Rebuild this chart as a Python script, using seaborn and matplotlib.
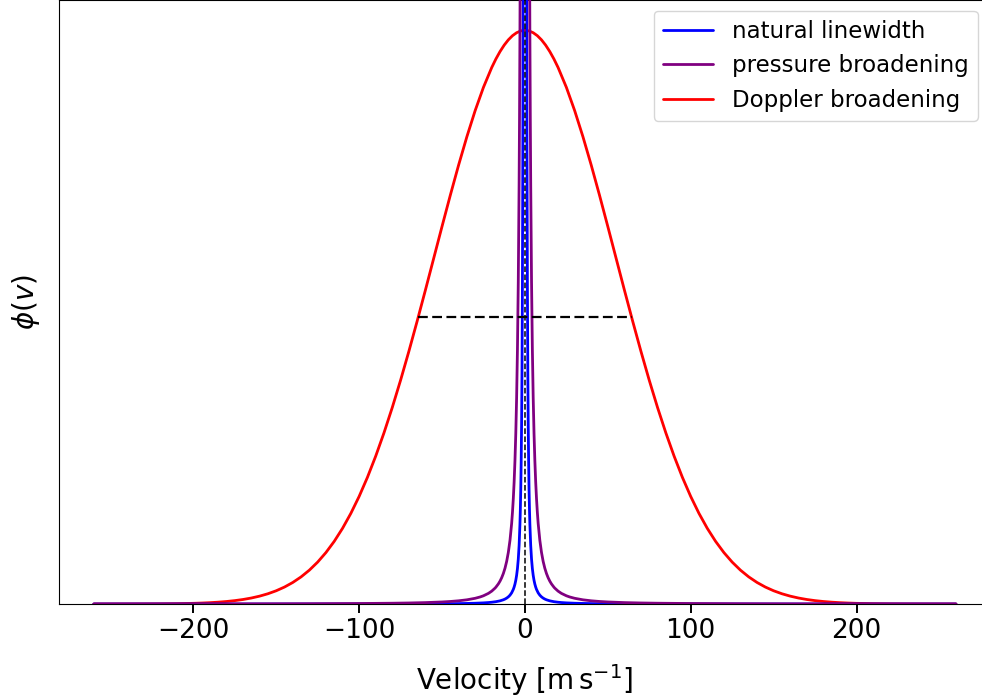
import matplotlib
matplotlib.use("Agg")
import matplotlib.pyplot as plt
import pandas as pd
import seaborn as sns

# ---------------- data (one side of each symmetric profile) ----------
# Doppler broadening (Gaussian), relative to its own peak
doppler_v_half = [0, 2.5, 5, 7.5, 10, 12.5, 15, 17.5, 20, 25, 30, 35, 40, 45, 50, 55, 60, 65,
                  70, 75, 80, 85, 90, 95, 100, 105, 110, 115, 120, 125, 130, 135, 140, 145,
                  150, 155, 160, 165, 170, 175, 180, 185, 190, 195, 200, 210, 220, 230, 240,
                  250, 260]
doppler_phi_half = [1.0, 0.99895, 0.99582, 0.99063, 0.98340, 0.97418, 0.96303, 0.95003,
                    0.93524, 0.90066, 0.86013, 0.81456, 0.76501, 0.71250, 0.65802, 0.60266,
                    0.54734, 0.49298, 0.44031, 0.38997, 0.34251, 0.29834, 0.25767, 0.22070,
                    0.18748, 0.15792, 0.13191, 0.10927, 0.08976, 0.07311, 0.05906, 0.04731,
                    0.03759, 0.02961, 0.02313, 0.01792, 0.01377, 0.01049, 0.00792, 0.005935,
                    0.00441, 0.003248, 0.00237, 0.00172, 0.00123, 0.00062, 0.00030, 0.00014,
                    0.000065, 0.000029, 0.000012]

# pressure broadening (Lorentzian), same scale
pressure_v_half = [0, 0.5, 1, 1.5, 2, 2.5, 2.75, 3, 3.25, 3.5, 4, 4.5, 5, 5.5, 6, 6.5, 7, 7.5,
                   8, 9, 10, 11, 12, 13, 14, 15, 16, 17.5, 18, 20, 22, 25, 27, 30, 35, 40, 45,
                   50, 60, 70, 80, 100, 130, 160, 200, 260]
pressure_phi_half = [250.0, 31.5, 8.69, 3.94, 2.23, 1.432, 1.1844, 0.996, 0.8491, 0.7325,
                     0.5612, 0.4437, 0.3595, 0.2972, 0.2498, 0.2128, 0.1835, 0.1599, 0.1405,
                     0.11106, 0.0900, 0.07436, 0.0625, 0.05324, 0.04591, 0.0400, 0.03515,
                     0.0294, 0.02777, 0.0225, 0.01859, 0.0144, 0.01234, 0.0100, 0.007347,
                     0.00563, 0.004444, 0.0036, 0.0025, 0.001837, 0.00141, 0.0009, 0.00053,
                     0.00035, 0.000225, 0.000133]

# natural linewidth (Lorentzian), same scale
natural_v_half = [0, 0.25, 0.5, 0.75, 1, 1.25, 1.5, 1.75, 2, 2.25, 2.5, 2.75, 3, 3.5, 4, 4.5,
                  5, 5.5, 6, 6.5, 7, 8, 9, 10, 11, 12, 13, 15, 17.5, 20, 22, 25, 30, 35, 40,
                  45, 50, 60, 70, 80, 100, 130, 160, 200, 260]
natural_phi_half = [1712.0, 19.8, 4.985, 2.219, 1.249, 0.7996, 0.5554, 0.4081, 0.3124,
                    0.2469, 0.2, 0.1653, 0.1389, 0.1020, 0.0781, 0.06173, 0.05, 0.04132,
                    0.0347, 0.02959, 0.0255, 0.0195, 0.01543, 0.0125, 0.01033, 0.00868,
                    0.007396, 0.00556, 0.004082, 0.003125, 0.002583, 0.002, 0.00139, 0.00102,
                    0.00078, 0.000617, 0.0005, 0.00035, 0.000255, 0.0002, 0.000125, 0.000074,
                    0.000049, 0.000031, 0.000018]

doppler_fwhm = 128.6
half_max = 0.5
line_center = 0

series_labels = ["natural linewidth", "pressure broadening", "Doppler broadening"]
series_colors = ["blue", "purple", "red"]
xtick_values = [-200, -100, 0, 100, 200]
x_limits = (-281, 281)
y_limits = (0, 1.052)


def mirror(v, p):
    v_full = [-x for x in reversed(v[1:])] + list(v)
    p_full = list(reversed(p[1:])) + list(p)
    return pd.DataFrame({"v": v_full, "phi": p_full})


frames = [mirror(natural_v_half, natural_phi_half),
          mirror(pressure_v_half, pressure_phi_half),
          mirror(doppler_v_half, doppler_phi_half)]

# ---------------- style ----------------
sns.set_style("white", rc={
    "axes.edgecolor": "black",
    "axes.linewidth": 1.4,
    "xtick.bottom": True,
    "xtick.color": "black",
    "axes.labelcolor": "black",
    "text.color": "black",
})
plt.rcParams["font.family"] = ["DejaVu Sans"]
plt.rcParams["mathtext.fontset"] = "dejavusans"

fig = plt.figure(figsize=(9.82, 7.0), dpi=100)
ax = fig.add_axes([0.06008, 0.1371, 0.9489, 0.8622])

zorders = [3, 3, 2]
for df, lab, col, z in zip(frames, series_labels, series_colors, zorders):
    sns.lineplot(data=df, x="v", y="phi", ax=ax, color=col, lw=2.0, label=lab,
                 sort=False, estimator=None, zorder=z)

# FWHM marker and line centre
ax.plot([-doppler_fwhm / 2, doppler_fwhm / 2], [half_max, half_max], color="black",
        lw=1.6, linestyle=(0, (4.4, 2.0)), zorder=4)
ax.axvline(line_center, color="black", lw=1.1, linestyle="--", zorder=5)

ax.set_xlim(*x_limits)
ax.set_ylim(*y_limits)
ax.set_xticks(xtick_values)
ax.set_yticks([])
ax.tick_params(axis="x", labelsize=19, length=6.5, width=1.4, direction="out")
ax.set_xlabel(r"Velocity [$\mathrm{m\,s^{-1}}$]", fontsize=20, labelpad=13)
ax.set_ylabel(r"$\phi(v)$", fontsize=20, labelpad=12)

leg = ax.legend(loc="upper right", bbox_to_anchor=(0.9968, 1.0), fontsize=16.5,
                frameon=True, labelspacing=0.5, handlelength=2.2, borderaxespad=0.45)
leg.get_frame().set_edgecolor("0.8")
for line in leg.get_lines():
    line.set_linewidth(2.0)

fig.savefig("out.png", dpi=100)
